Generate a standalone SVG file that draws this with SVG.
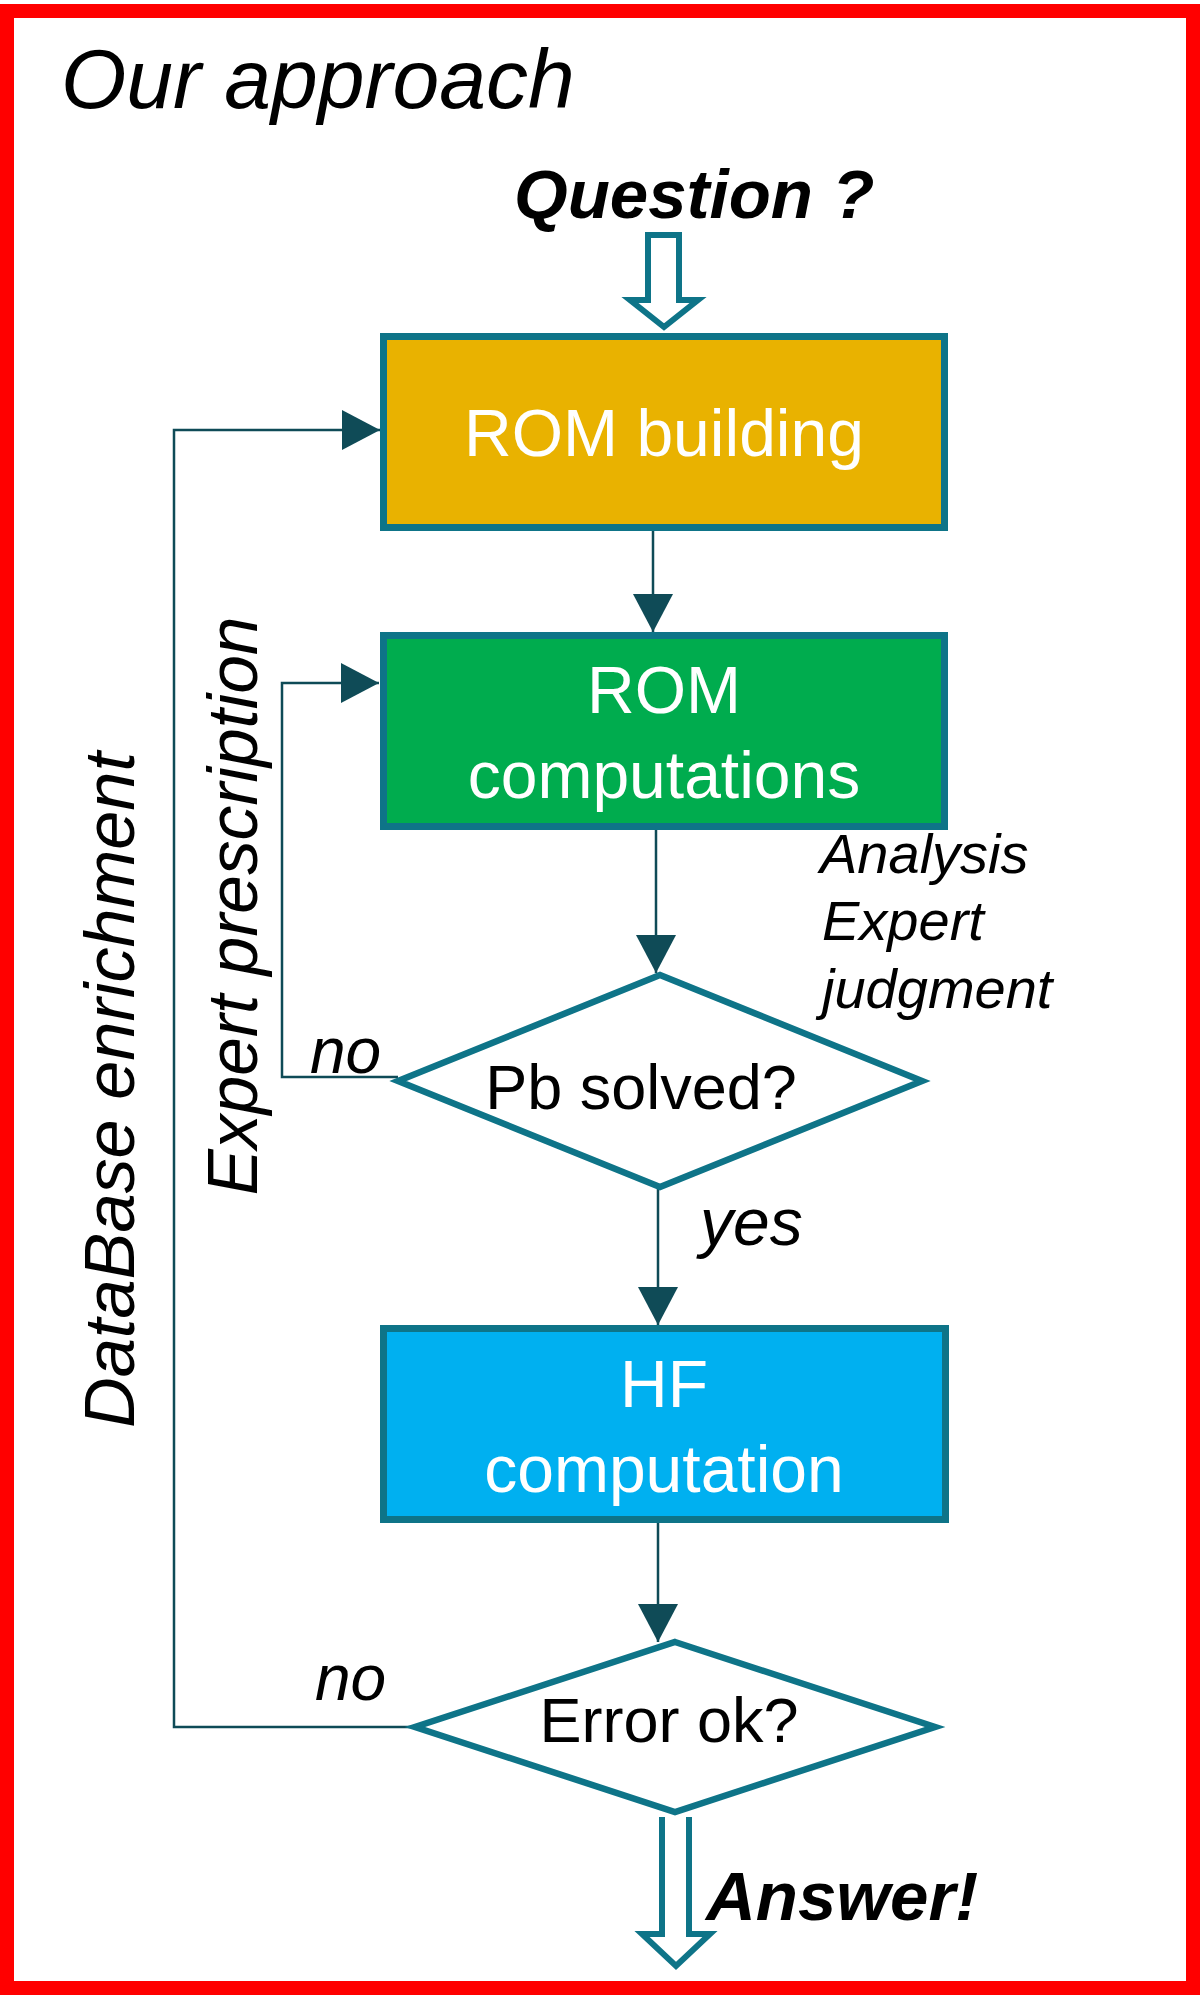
<svg xmlns="http://www.w3.org/2000/svg" width="1200" height="1995" viewBox="0 0 1200 1995">
  <style>
    .box { stroke: #0E7488; stroke-width: 7; }
    .dia { fill: #FFFFFF; stroke: #0E7488; stroke-width: 6.5; stroke-linejoin: miter; }
    .boxtxt { font-family: "Liberation Sans", Arial, sans-serif; font-size: 66px; fill: #FFFFFF; text-anchor: middle; }
    .diatxt { font-family: "Liberation Sans", Arial, sans-serif; font-size: 63px; fill: #000000; text-anchor: middle; }
    .lbl { font-family: "Liberation Sans", Arial, sans-serif; font-style: italic; fill: #000000; }
    .big { font-family: "Liberation Sans", Arial, sans-serif; font-style: italic; font-weight: bold; font-size: 69px; fill: #000000; }
    .conn { fill: none; stroke: #0F4B57; stroke-width: 2.5; }
    .hollow { fill: #FFFFFF; stroke: #0E7488; stroke-width: 6; stroke-linejoin: miter; }
  </style>
  <defs>
    <marker id="arrow" viewBox="0 0 38 40" refX="38" refY="20" markerWidth="38" markerHeight="40" markerUnits="userSpaceOnUse" orient="auto">
      <path d="M0,0 L38,20 L0,40 Z" fill="#0F4B57"/>
    </marker>
  </defs>

  <rect x="0" y="0" width="1200" height="1995" fill="#FFFFFF"/>
  <rect id="frame" x="7" y="11" width="1186" height="1977" fill="none" stroke="#FF0000" stroke-width="14"/>

  <text id="title" class="lbl" x="61" y="108" font-size="84">Our approach</text>

  <g id="connectors">
    <path class="hollow" d="M648,235 H679 V300 H698 L664,327 L630,300 H648 Z"/>
    <path class="conn" d="M653,531 V632" marker-end="url(#arrow)"/>
    <path class="conn" d="M656,830 V973" marker-end="url(#arrow)"/>
    <path class="conn" d="M658,1178 V1325" marker-end="url(#arrow)"/>
    <path class="conn" d="M658,1523 V1642" marker-end="url(#arrow)"/>
    <path class="conn" d="M398,1077 H282 V683 H379" marker-end="url(#arrow)"/>
    <path class="conn" d="M415,1727 H174 V430 H380" marker-end="url(#arrow)"/>
    <path class="hollow" d="M662,1817 V1934 H642 L676,1966 L710,1934 H689 V1817"/>
  </g>

  <g id="question">
    <text class="big" x="514" y="218">Question ?</text>
  </g>

  <g id="rom-building">
    <rect class="box" x="383.5" y="336.5" width="561" height="191" fill="#E9B200"/>
    <text class="boxtxt" x="664" y="456">ROM building</text>
  </g>

  <g id="rom-computations">
    <rect class="box" x="383.5" y="635.5" width="561" height="191" fill="#00AC4E"/>
    <text class="boxtxt" x="664" y="713">ROM</text>
    <text class="boxtxt" x="664" y="798">computations</text>
  </g>

  <g id="pb-solved">
    <polygon class="dia" points="660,975 922,1081 660,1187 398,1081"/>
    <text class="diatxt" x="641" y="1109">Pb solved?</text>
  </g>

  <g id="hf-computation">
    <rect class="box" x="383.5" y="1328.5" width="562" height="191" fill="#00B0F0"/>
    <text class="boxtxt" x="664" y="1407">HF</text>
    <text class="boxtxt" x="664" y="1492">computation</text>
  </g>

  <g id="error-ok">
    <polygon class="dia" points="675,1642 935,1727 675,1812 415,1727"/>
    <text class="diatxt" x="669" y="1742">Error ok?</text>
  </g>

  <g id="answer">
    <text class="big" x="706" y="1920">Answer!</text>
  </g>

  <g id="labels">
    <text class="lbl" x="310" y="1073" font-size="64">no</text>
    <text class="lbl" x="315" y="1700" font-size="64">no</text>
    <text class="lbl" x="700" y="1245" font-size="66">yes</text>
    <text class="lbl" x="820" y="873" font-size="56">Analysis</text>
    <text class="lbl" x="822" y="940" font-size="56">Expert</text>
    <text class="lbl" x="822" y="1008" font-size="56">judgment</text>
    <text class="lbl" font-size="70" text-anchor="middle" transform="translate(257,906) rotate(-90)" textLength="579" lengthAdjust="spacingAndGlyphs">Expert prescription</text>
    <text class="lbl" font-size="70" text-anchor="middle" transform="translate(134,1090) rotate(-90)" textLength="676" lengthAdjust="spacingAndGlyphs">DataBase enrichment</text>
  </g>
</svg>
